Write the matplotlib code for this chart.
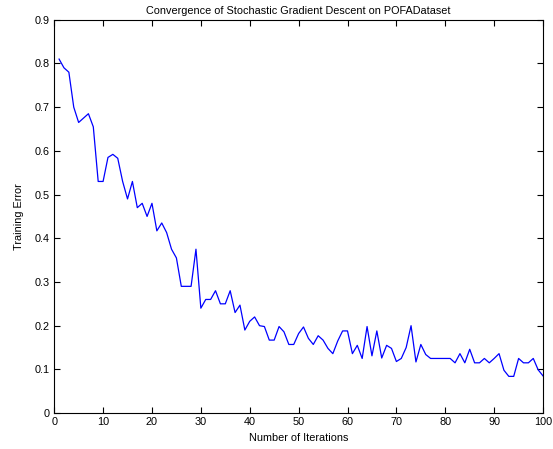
import numpy as np
import matplotlib
matplotlib.use('Agg')
import matplotlib.pyplot as plt

# training error per iteration
iterations = list(range(1, 101))
training_error = [
    0.810, 0.790, 0.780, 0.700, 0.665, 0.675, 0.685, 0.655, 0.530, 0.530,
    0.585, 0.592, 0.583, 0.530, 0.490, 0.530, 0.470, 0.480, 0.450, 0.480,
    0.417, 0.435, 0.413, 0.375, 0.355, 0.290, 0.290, 0.290, 0.375, 0.240,
    0.260, 0.260, 0.280, 0.250, 0.250, 0.280, 0.230, 0.247, 0.190, 0.210,
    0.220, 0.200, 0.198, 0.167, 0.167, 0.198, 0.186, 0.157, 0.157, 0.182,
    0.197, 0.171, 0.157, 0.177, 0.167, 0.148, 0.136, 0.165, 0.188, 0.188,
    0.136, 0.155, 0.125, 0.198, 0.131, 0.188, 0.126, 0.155, 0.148, 0.118,
    0.125, 0.150, 0.200, 0.117, 0.157, 0.134, 0.125, 0.125, 0.125, 0.125,
    0.125, 0.115, 0.136, 0.115, 0.146, 0.115, 0.115, 0.125, 0.115, 0.125,
    0.136, 0.098, 0.084, 0.084, 0.125, 0.115, 0.115, 0.125, 0.099, 0.085,
]
x_ticks = list(range(0, 101, 10))
y_ticks = [0, 0.1, 0.2, 0.3, 0.4, 0.5, 0.6, 0.7, 0.8, 0.9]
y_tick_labels = ['0', '0.1', '0.2', '0.3', '0.4', '0.5', '0.6', '0.7', '0.8', '0.9']

plt.rcParams['font.family'] = ['Liberation Sans', 'DejaVu Sans']
plt.rcParams['font.size'] = 7.8

fig = plt.figure(figsize=(5.53, 4.49), dpi=100)
ax = fig.add_axes([0.098, 0.080, 0.884, 0.876])

ax.plot(iterations, training_error, color='#0000ff', linewidth=0.9)

ax.set_xlim(0, 100)
ax.set_ylim(0, 0.9)
ax.set_xticks(x_ticks)
ax.set_yticks(y_ticks)
ax.set_yticklabels(y_tick_labels)
ax.tick_params(direction='in', top=True, right=True, length=4, width=0.8, pad=3)
for s in ax.spines.values():
    s.set_linewidth(0.8)

ax.set_title("Convergence of Stochastic Gradient Descent on POFADataset", fontsize=7.8, pad=4)
ax.set_xlabel("Number of Iterations", fontsize=7.8, labelpad=4)
ax.set_ylabel("Training Error", fontsize=7.8, labelpad=8)

fig.savefig('out.png', dpi=100)
